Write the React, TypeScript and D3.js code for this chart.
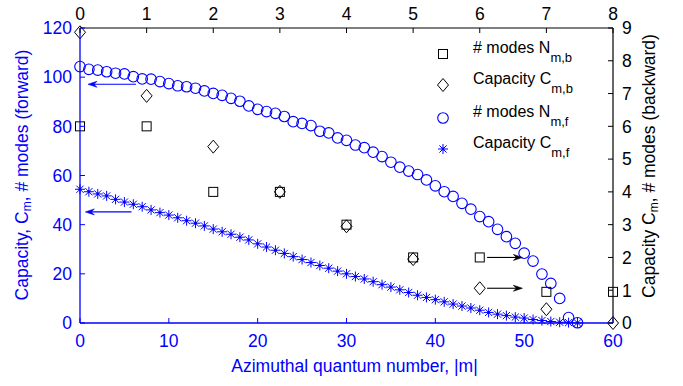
import React from 'react';
import * as d3 from 'd3';

// Forward (blue) series, indexed by |m| = 0,1,2,...
const modesForward = [
  104.3, 103.2, 102.9, 102.2, 101.6, 101.3, 100.2, 99.3, 99.2, 98.2,
  97.4, 96.5, 96.1, 95.5, 94.4, 93.4, 92.6, 91.4, 90.2, 88.3,
  86.9, 86.0, 85.3, 84.0, 81.9, 81.2, 80.3, 78.0, 77.3, 75.3,
  74.3, 72.4, 71.3, 69.5, 67.7, 65.4, 63.4, 61.8, 60.4, 58.2,
  55.8, 53.4, 51.5, 48.7, 46.3, 43.3, 41.2, 38.1, 35.1, 32.4,
  28.4, 25.2, 19.9, 16.1, 10.0, 2.2, 0.1,
];
const capacityForward = [
  54.4, 53.4, 52.5, 51.7, 50.3, 49.2, 48.3, 47.3, 46.0, 44.9,
  43.9, 42.8, 41.6, 40.6, 39.5, 38.2, 37.1, 36.1, 34.9, 33.8,
  32.2, 30.9, 29.6, 28.3, 27.0, 25.8, 24.6, 23.4, 22.3, 21.1,
  20.0, 18.9, 17.9, 16.8, 15.6, 14.6, 13.5, 12.4, 11.3, 10.4,
  9.5, 8.6, 7.7, 6.9, 6.1, 5.2, 4.3, 3.6, 3.0, 2.4,
  2.0, 1.4, 1.0, 0.6, 0.3, 0.15, 0.05,
];

// Backward (black) series, indexed by top axis 0..8
const backwardIndex = [0, 1, 2, 3, 4, 5, 6, 7, 8];
const modesBackward = [6, 6, 4, 4, 3, 2, 2, 0.95, 0.95];
const capacityBackward = [8.87, 6.93, 5.38, 4.0, 2.95, 1.95, 1.06, 0.42, 0];

const bottomTicks = [0, 10, 20, 30, 40, 50, 60];
const leftTicks = [0, 20, 40, 60, 80, 100, 120];
const topTicks = [0, 1, 2, 3, 4, 5, 6, 7, 8];
const rightTicks = [0, 1, 2, 3, 4, 5, 6, 7, 8, 9];

// Annotation arrows: [fromX, toX, y]
const leftArrows = [
  [6.3, 0.9, 97.1],
  [5.8, 0.6, 45.2],
];
const rightArrows = [
  [6.11, 6.64, 2.0],
  [6.11, 6.64, 1.06],
];

const BLUE = '#0000ff';
const FONT = '"Liberation Sans", Arial, Helvetica, sans-serif';

const L = 80, R = 613, T = 28, B = 323;
const x = d3.scaleLinear().domain([0, 60]).range([L, R]);
const xTop = d3.scaleLinear().domain([0, 8]).range([L, R]);
const yL = d3.scaleLinear().domain([0, 120]).range([B, T]);
const yR = d3.scaleLinear().domain([0, 9]).range([B, T]);

function Square({ cx, cy }: { cx: number; cy: number }) {
  return <rect x={cx - 4.5} y={cy - 4.5} width={9} height={9} fill="none" stroke="#000" strokeWidth={1} />;
}
function Diamond({ cx, cy }: { cx: number; cy: number }) {
  return (
    <path
      d={`M${cx},${cy - 6.5}L${cx + 5.5},${cy}L${cx},${cy + 6.5}L${cx - 5.5},${cy}Z`}
      fill="none"
      stroke="#000"
      strokeWidth={1}
    />
  );
}
function Circle({ cx, cy }: { cx: number; cy: number }) {
  return <circle cx={cx} cy={cy} r={5.3} fill="none" stroke={BLUE} strokeWidth={1.1} />;
}
function Star({ cx, cy }: { cx: number; cy: number }) {
  const s = 5, d = 3.6;
  return (
    <g stroke={BLUE} strokeWidth={1}>
      <line x1={cx - s} y1={cy} x2={cx + s} y2={cy} />
      <line x1={cx} y1={cy - s} x2={cx} y2={cy + s} />
      <line x1={cx - d} y1={cy - d} x2={cx + d} y2={cy + d} />
      <line x1={cx - d} y1={cy + d} x2={cx + d} y2={cy - d} />
      <circle cx={cx} cy={cy} r={1.4} fill={BLUE} stroke="none" />
    </g>
  );
}

function Arrow({ x1, x2, y, color }: { x1: number; x2: number; y: number; color: string }) {
  const dir = x2 > x1 ? 1 : -1;
  const hl = 9, hw = 3;
  return (
    <g>
      <line x1={x1} y1={y} x2={x2 - dir * 4} y2={y} stroke={color} strokeWidth={1.1} />
      <path
        d={`M${x2},${y}L${x2 - dir * hl},${y - hw}L${x2 - dir * (hl - 3)},${y}L${x2 - dir * hl},${y + hw}Z`}
        fill={color}
        stroke={color}
        strokeWidth={0.6}
      />
    </g>
  );
}

const legendItems = [
  { main: '# modes N', sub: 'm,b', marker: 'square' },
  { main: 'Capacity C', sub: 'm,b', marker: 'diamond' },
  { main: '# modes N', sub: 'm,f', marker: 'circle' },
  { main: 'Capacity C', sub: 'm,f', marker: 'star' },
];
const legendY = [54, 85, 118, 149];

export default function App() {
  const fs = 17.5;
  return (
    <div style={{ position: 'absolute', left: 0, top: 0 }}>
      <svg width={683} height={386} style={{ display: 'block', background: '#fff' }} fontFamily={FONT}>
        {/* Data: forward */}
        {modesForward.map((v, i) => (
          <Circle key={'c' + i} cx={x(i)} cy={yL(v)} />
        ))}
        {capacityForward.map((v, i) => (
          <Star key={'s' + i} cx={x(i)} cy={yL(v)} />
        ))}
        {/* Data: backward */}
        {backwardIndex.map((k, i) => (
          <Square key={'q' + i} cx={xTop(k)} cy={yR(modesBackward[i])} />
        ))}
        {backwardIndex.map((k, i) => (
          <Diamond key={'d' + i} cx={xTop(k)} cy={yR(capacityBackward[i])} />
        ))}

        {/* Arrows */}
        {leftArrows.map((a, i) => (
          <Arrow key={'la' + i} x1={x(a[0])} x2={x(a[1])} y={yL(a[2])} color={BLUE} />
        ))}
        {rightArrows.map((a, i) => (
          <Arrow key={'ra' + i} x1={xTop(a[0])} x2={xTop(a[1])} y={yR(a[2])} color="#000" />
        ))}

        {/* Axes lines */}
        <line x1={L} y1={T} x2={R} y2={T} stroke="#000" strokeWidth={1.2} />
        <line x1={R} y1={T} x2={R} y2={B} stroke="#000" strokeWidth={1.2} />
        <line x1={L} y1={B} x2={R} y2={B} stroke={BLUE} strokeWidth={1.3} />
        <line x1={L} y1={T} x2={L} y2={B} stroke={BLUE} strokeWidth={1.3} />

        {/* Bottom ticks */}
        {bottomTicks.map((t) => (
          <g key={'bt' + t}>
            <line x1={x(t)} y1={B} x2={x(t)} y2={B - 5} stroke={BLUE} strokeWidth={1} />
            <text x={x(t)} y={347} textAnchor="middle" fontSize={fs} fill={BLUE}>
              {t}
            </text>
          </g>
        ))}
        {/* Left ticks */}
        {leftTicks.map((t) => (
          <g key={'lt' + t}>
            <line x1={L} y1={yL(t)} x2={L + 5} y2={yL(t)} stroke={BLUE} strokeWidth={1} />
            <text x={72} y={yL(t)} dy="0.36em" textAnchor="end" fontSize={fs} fill={BLUE}>
              {t}
            </text>
          </g>
        ))}
        {/* Top ticks */}
        {topTicks.map((t) => (
          <g key={'tt' + t}>
            <line x1={xTop(t)} y1={T} x2={xTop(t)} y2={T + 5} stroke="#000" strokeWidth={1} />
            <text x={xTop(t)} y={20} textAnchor="middle" fontSize={fs} fill="#000">
              {t}
            </text>
          </g>
        ))}
        {/* Right ticks */}
        {rightTicks.map((t) => (
          <g key={'rt' + t}>
            <line x1={R} y1={yR(t)} x2={R - 5} y2={yR(t)} stroke="#000" strokeWidth={1} />
            <text x={622} y={yR(t)} dy="0.36em" textAnchor="start" fontSize={fs} fill="#000">
              {t}
            </text>
          </g>
        ))}

        {/* Axis titles */}
        <text x={354.5} y={372} textAnchor="middle" fontSize={fs} fill={BLUE}>
          Azimuthal quantum number, |m|
        </text>
        <text transform="translate(28,175) rotate(-90)" textAnchor="middle" fontSize={fs} fill={BLUE}>
          Capacity, C
          <tspan fontSize={12} dy={3}>m</tspan>
          <tspan dy={-3}>, # modes (forward)</tspan>
        </text>
        <text transform="translate(655,166) rotate(-90)" textAnchor="middle" fontSize={fs} fill="#000">
          Capacity C
          <tspan fontSize={12} dy={3}>m</tspan>
          <tspan dy={-3}>, # modes (backward)</tspan>
        </text>

        {/* Legend */}
        {legendItems.map((it, i) => {
          const cy = legendY[i];
          const mx = 443;
          return (
            <g key={'lg' + i}>
              {it.marker === 'square' && <Square cx={mx} cy={cy} />}
              {it.marker === 'diamond' && <Diamond cx={mx} cy={cy} />}
              {it.marker === 'circle' && <Circle cx={mx} cy={cy} />}
              {it.marker === 'star' && <Star cx={mx} cy={cy} />}
              <text x={473} y={cy - 1} fontSize={16} fill="#000">
                {it.main}
                <tspan fontSize={13} dy={9}>{it.sub}</tspan>
              </text>
            </g>
          );
        })}
      </svg>
    </div>
  );
}
